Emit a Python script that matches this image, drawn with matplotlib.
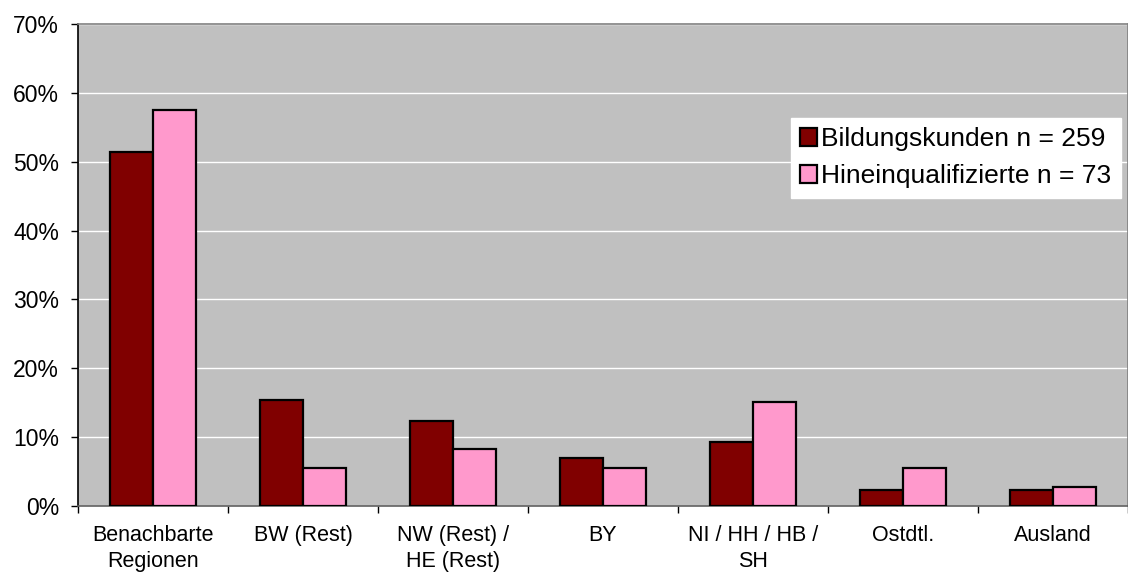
import matplotlib.pyplot as plt
import numpy as np

categories = ['Benachbarte\nRegionen', 'BW (Rest)', 'NW (Rest) /\nHE (Rest)', 'BY',
              'NI / HH / HB /\nSH', 'Ostdtl.', 'Ausland']
bildungskunden = [51.35, 15.44, 12.36, 6.95, 9.27, 2.32, 2.32]
hineinqualifizierte = [57.53, 5.48, 8.22, 5.48, 15.07, 5.48, 2.74]
series_labels = ['Bildungskunden n = 259', 'Hineinqualifizierte n = 73']
yticks = [0, 10, 20, 30, 40, 50, 60, 70]


def main():
    plt.rcParams['font.family'] = ['Liberation Sans', 'DejaVu Sans']

    fig = plt.figure(figsize=(11.28, 5.74), dpi=100)
    W, H = 1128, 574
    ax = fig.add_axes([78 / W, (H - 506) / H, (1128 - 78) / W, (506 - 24) / H])
    ax.set_facecolor('#C0C0C0')

    x = np.arange(len(categories))
    w = 1 / 3.5
    ax.bar(x - w / 2, bildungskunden, w, color='#800000', edgecolor='black',
           linewidth=1.6, label=series_labels[0], zorder=3)
    ax.bar(x + w / 2, hineinqualifizierte, w, color='#FF99CC', edgecolor='black',
           linewidth=1.6, label=series_labels[1], zorder=3)

    ax.set_xlim(-0.5, len(categories) - 0.5)
    ax.set_ylim(0, 70)
    ax.set_yticks(yticks)
    ax.set_yticklabels([f'{v}%' for v in yticks], fontsize=16.5)
    ax.yaxis.grid(True, color='white', linewidth=1.0, zorder=0)
    ax.set_axisbelow(True)

    # labels at the centres, tick marks on the category boundaries
    ax.set_xticks(x)
    ax.set_xticklabels(categories, fontsize=15.5, linespacing=1.3)
    ax.tick_params(axis='x', which='major', length=0, pad=14)
    ax.set_xticks(np.arange(len(categories) + 1) - 0.5, minor=True)
    ax.tick_params(axis='x', which='minor', length=5, width=1, color='black')
    ax.tick_params(axis='y', length=5, width=1, color='black', pad=8.5)

    ax.spines['left'].set_color('black')
    ax.spines['bottom'].set_color('#606060')
    ax.spines['top'].set_color('#808080')
    ax.spines['right'].set_color('#808080')
    for s in ax.spines.values():
        s.set_linewidth(1.2)

    leg = ax.legend(loc='upper left', bbox_to_anchor=((791 - 78) / 1050, (506 - 118) / 482),
                    fontsize=19, frameon=True, fancybox=False, framealpha=1,
                    handlelength=0.65, handleheight=0.65, handletextpad=0.15,
                    borderpad=0.35, labelspacing=0.5, borderaxespad=0)
    leg.get_frame().set_facecolor('white')
    leg.get_frame().set_edgecolor('white')

    plt.savefig('out.png', dpi=100)


if __name__ == '__main__':
    main()
